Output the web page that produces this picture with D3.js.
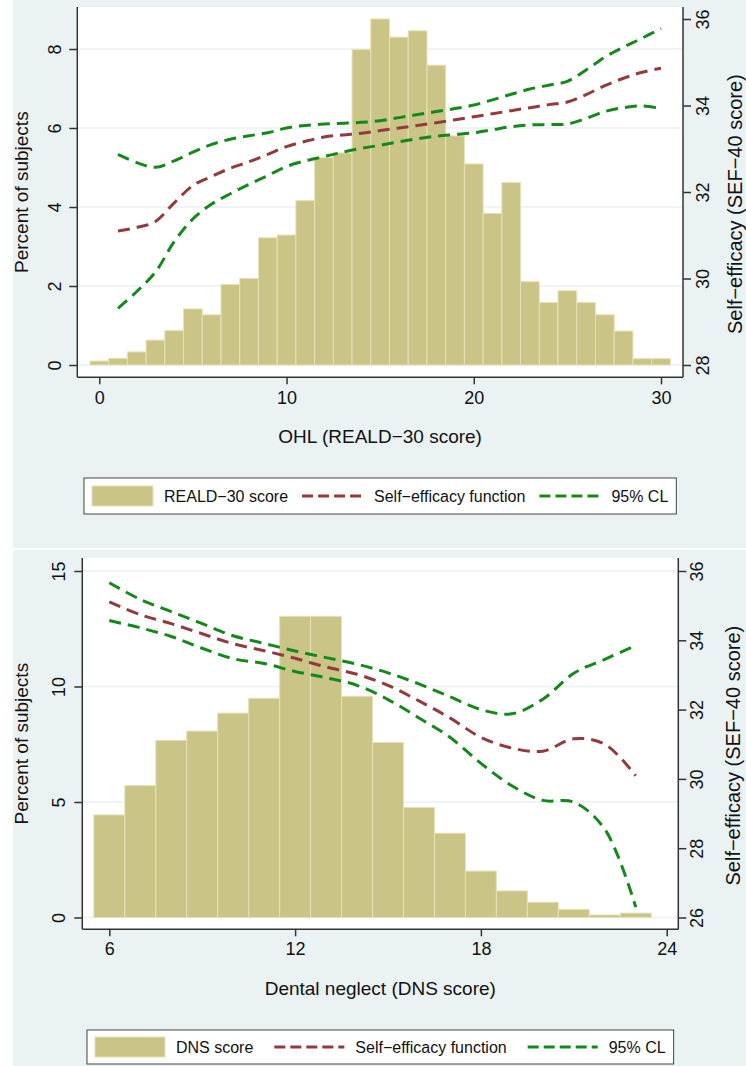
<!DOCTYPE html>
<html>
<head>
<meta charset="utf-8">
<script src="https://cdn.jsdelivr.net/npm/d3@7"></script>
<style>
  body { margin: 0; background: #fff; }
  svg { display: block; font-family: 'Liberation Sans', Arial, sans-serif; }
</style>
</head>
<body>
<svg id="chart" width="746" height="1066"></svg>
<script>
// Top panel: OHL (REALD-30) histogram with self-efficacy fit
const REALD_SCORES = [0, 1, 2, 3, 4, 5, 6, 7, 8, 9, 10, 11, 12, 13, 14, 15, 16, 17, 18, 19, 20, 21, 22, 23, 24, 25, 26, 27, 28, 29, 30];
const REALD_PERCENT = [0.10, 0.17, 0.33, 0.63, 0.87, 1.42, 1.27, 2.04, 2.19, 3.22, 3.29, 4.16, 5.25, 5.37, 7.99, 8.76, 8.30, 8.46, 7.59, 5.80, 5.09, 3.84, 4.62, 2.11, 1.58, 1.88, 1.58, 1.27, 0.86, 0.16, 0.16];
const REALD_FIT_SCORES = [1, 2, 3, 4, 5, 6, 7, 8, 9, 10, 11, 12, 13, 14, 15, 16, 17, 18, 19, 20, 21, 22, 23, 24, 25, 26, 27, 28, 29, 30];
const REALD_FIT = [31.10, 31.18, 31.32, 31.75, 32.15, 32.36, 32.55, 32.70, 32.87, 33.05, 33.17, 33.27, 33.32, 33.36, 33.42, 33.48, 33.54, 33.60, 33.67, 33.74, 33.81, 33.88, 33.95, 34.02, 34.08, 34.25, 34.46, 34.63, 34.77, 34.86];
const REALD_UPPER = [32.87, 32.68, 32.57, 32.72, 32.92, 33.10, 33.22, 33.30, 33.37, 33.48, 33.54, 33.57, 33.59, 33.61, 33.65, 33.72, 33.79, 33.86, 33.93, 34.01, 34.13, 34.26, 34.38, 34.47, 34.56, 34.82, 35.12, 35.35, 35.56, 35.78];
const REALD_LOWER = [29.31, 29.70, 30.15, 30.85, 31.38, 31.72, 31.96, 32.18, 32.38, 32.59, 32.72, 32.82, 32.92, 33.01, 33.08, 33.16, 33.23, 33.29, 33.33, 33.37, 33.44, 33.51, 33.55, 33.56, 33.57, 33.70, 33.86, 33.95, 33.99, 33.93];
const REALD_X_TICKS = [0, 10, 20, 30];
const REALD_PCT_TICKS = [0, 2, 4, 6, 8];
const REALD_SEF_TICKS = [28, 30, 32, 34, 36];
const REALD_LEGEND = ['REALD−30 score', 'Self−efficacy function', '95% CL'];

// Bottom panel: dental neglect (DNS) histogram with self-efficacy fit
const DNS_SCORES = [6, 7, 8, 9, 10, 11, 12, 13, 14, 15, 16, 17, 18, 19, 20, 21, 22, 23];
const DNS_PERCENT = [4.44, 5.71, 7.67, 8.07, 8.85, 9.49, 13.04, 13.04, 9.58, 7.58, 4.76, 3.65, 2.01, 1.15, 0.66, 0.35, 0.11, 0.19];
const DNS_FIT = [35.11, 34.74, 34.48, 34.19, 33.90, 33.70, 33.48, 33.23, 33.02, 32.70, 32.25, 31.76, 31.20, 30.89, 30.80, 31.16, 31.00, 30.09];
const DNS_UPPER = [35.66, 35.18, 34.83, 34.48, 34.13, 33.91, 33.69, 33.50, 33.31, 33.06, 32.74, 32.37, 32.00, 31.88, 32.30, 33.05, 33.45, 33.85];
const DNS_LOWER = [34.57, 34.36, 34.11, 33.77, 33.47, 33.33, 33.10, 32.92, 32.70, 32.29, 31.76, 31.20, 30.45, 29.80, 29.38, 29.33, 28.55, 26.30];
const DNS_X_TICKS = [6, 12, 18, 24];
const DNS_PCT_TICKS = [0, 5, 10, 15];
const DNS_SEF_TICKS = [26, 28, 30, 32, 34, 36];
const DNS_LEGEND = ['DNS score', 'Self−efficacy function', '95% CL'];

// Colours
const BG = '#eaf2f3';
const BAR = '#cbc487';
const BAR_EDGE = '#e6e1b8';
const RED = '#943a3e';
const GREEN = '#13891a';
const AXIS = '#333';
const INK = '#111';

// Panel layouts
const TOP = {
  bg: [13, 0, 733, 548],
  frame: { left: 77.3, right: 683, top: 7, bottom: 377.3 },
  xDomain: [0, 30], xRange: [99.3, 661],
  pctDomain: [0, 8], pctRange: [365, 49],
  sefDomain: [28, 36], sefRange: [365, 19],
  xLabelBase: 404, xTitleBase: 443,
  leftTitleX: 28, rightTitleX: 742, rightTitleShift: 12,
  leftTickOff: 16, rightTickOff: 26,
  legend: { y: 478, h: 36, keyW: 61, keyGap: 11, itemGap: 14, pad: 8 },
  xTitle: 'OHL (REALD−30 score)',
  scores: REALD_SCORES, percent: REALD_PERCENT,
  fitScores: REALD_FIT_SCORES, fit: REALD_FIT, upper: REALD_UPPER, lower: REALD_LOWER,
  xTicks: REALD_X_TICKS, pctTicks: REALD_PCT_TICKS, sefTicks: REALD_SEF_TICKS,
  legendLabels: REALD_LEGEND,
};

const BOTTOM = {
  bg: [13, 550, 733, 516],
  frame: { left: 82.3, right: 678.3, top: 558, bottom: 929.3 },
  xDomain: [6, 24], xRange: [109.3, 666.7],
  pctDomain: [0, 15], pctRange: [917.5, 571],
  sefDomain: [26, 36], sefRange: [917.5, 571],
  xLabelBase: 955, xTitleBase: 995,
  leftTitleX: 28, rightTitleX: 740, rightTitleShift: 12,
  leftTickOff: 17, rightTickOff: 25,
  legend: { y: 1030, h: 34, keyW: 70, keyGap: 11, itemGap: 21, pad: 8 },
  xTitle: 'Dental neglect (DNS score)',
  scores: DNS_SCORES, percent: DNS_PERCENT,
  fitScores: DNS_SCORES, fit: DNS_FIT, upper: DNS_UPPER, lower: DNS_LOWER,
  xTicks: DNS_X_TICKS, pctTicks: DNS_PCT_TICKS, sefTicks: DNS_SEF_TICKS,
  legendLabels: DNS_LEGEND,
};

// Rotate the tick labels of a vertical axis so they read bottom to top
function rotateTickLabels(axisG, offset) {
  axisG.selectAll('text')
    .attr('transform', 'rotate(-90)')
    .attr('x', 0)
    .attr('y', offset)
    .attr('dy', 0)
    .style('text-anchor', 'middle');
}

function drawLegend(svg, p, xMid) {
  const L = p.legend;
  const cy = L.y + L.h / 2;
  const g = svg.append('g');
  const box = g.append('rect')
    .attr('y', L.y)
    .attr('height', L.h)
    .attr('fill', '#fff')
    .attr('stroke', '#444')
    .attr('stroke-width', 1);
  const items = g.append('g');

  let cx = 0;
  p.legendLabels.forEach((label, i) => {
    if (i === 0) {
      items.append('rect')
        .attr('x', cx).attr('y', cy - 10)
        .attr('width', L.keyW).attr('height', 20)
        .attr('fill', BAR).attr('stroke', BAR_EDGE);
    } else {
      items.append('line')
        .attr('x1', cx).attr('x2', cx + L.keyW)
        .attr('y1', cy).attr('y2', cy)
        .attr('stroke', i === 1 ? RED : GREEN)
        .attr('stroke-width', 3)
        .attr('stroke-dasharray', '11,5');
    }
    const t = items.append('text')
      .attr('x', cx + L.keyW + L.keyGap)
      .attr('y', cy + 6)
      .attr('font-size', 16)
      .attr('fill', INK)
      .text(label);
    cx += L.keyW + L.keyGap + t.node().getComputedTextLength() + L.itemGap;
  });

  const contentW = cx - L.itemGap;
  const left = xMid - contentW / 2;
  items.attr('transform', `translate(${left},0)`);
  box.attr('x', left - L.pad).attr('width', contentW + 2 * L.pad);
}

function drawPanel(svg, p) {
  const f = p.frame;
  const g = svg.append('g');

  // Background and plot region
  g.append('rect')
    .attr('x', p.bg[0]).attr('y', p.bg[1])
    .attr('width', p.bg[2]).attr('height', p.bg[3])
    .attr('fill', BG);
  g.append('rect')
    .attr('x', f.left).attr('y', f.top)
    .attr('width', f.right - f.left).attr('height', f.bottom - f.top)
    .attr('fill', '#fff');

  // Scales
  const x = d3.scaleLinear(p.xDomain, p.xRange);
  const yPct = d3.scaleLinear(p.pctDomain, p.pctRange);
  const ySef = d3.scaleLinear(p.sefDomain, p.sefRange);

  // Grid lines (left axis)
  g.append('g')
    .selectAll('line')
    .data(p.pctTicks)
    .join('line')
    .attr('x1', f.left).attr('x2', f.right)
    .attr('y1', (d) => yPct(d)).attr('y2', (d) => yPct(d))
    .attr('stroke', BG)
    .attr('stroke-width', 1.5);

  // Histogram bars
  g.append('g')
    .selectAll('rect')
    .data(p.scores.map((s, i) => ({ s, v: p.percent[i] })))
    .join('rect')
    .attr('x', (d) => x(d.s - 0.5))
    .attr('width', (d) => x(d.s + 0.5) - x(d.s - 0.5))
    .attr('y', (d) => yPct(d.v))
    .attr('height', (d) => yPct(0) - yPct(d.v))
    .attr('fill', BAR)
    .attr('stroke', BAR_EDGE)
    .attr('stroke-width', 1);

  // Fitted lines
  const line = d3.line()
    .x((d) => x(d[0]))
    .y((d) => ySef(d[1]))
    .curve(d3.curveCatmullRom.alpha(0.5));
  const series = [
    { values: p.fit, color: RED },
    { values: p.upper, color: GREEN },
    { values: p.lower, color: GREEN },
  ];
  g.append('g')
    .selectAll('path')
    .data(series)
    .join('path')
    .attr('d', (d) => line(p.fitScores.map((s, i) => [s, d.values[i]])))
    .attr('fill', 'none')
    .attr('stroke', (d) => d.color)
    .attr('stroke-width', 3)
    .attr('stroke-dasharray', '12,7');

  // Frame lines
  const frame = g.append('g').attr('stroke', AXIS).attr('stroke-width', 1.5);
  frame.append('line').attr('x1', f.left).attr('x2', f.left).attr('y1', f.top).attr('y2', f.bottom);
  frame.append('line').attr('x1', f.right).attr('x2', f.right).attr('y1', f.top).attr('y2', f.bottom);
  frame.append('line').attr('x1', f.left).attr('x2', f.right).attr('y1', f.bottom).attr('y2', f.bottom);

  // Left axis
  const leftAxis = g.append('g')
    .attr('transform', `translate(${f.left},0)`)
    .call(d3.axisLeft(yPct).tickValues(p.pctTicks).tickSize(8).tickSizeOuter(0));
  rotateTickLabels(leftAxis, -p.leftTickOff);

  // Right axis
  const rightAxis = g.append('g')
    .attr('transform', `translate(${f.right},0)`)
    .call(d3.axisRight(ySef).tickValues(p.sefTicks).tickSize(8).tickSizeOuter(0));
  rotateTickLabels(rightAxis, p.rightTickOff);

  // Bottom axis
  const bottomAxis = g.append('g')
    .attr('transform', `translate(0,${f.bottom})`)
    .call(d3.axisBottom(x).tickValues(p.xTicks).tickSize(7).tickSizeOuter(0));
  bottomAxis.selectAll('text')
    .attr('y', p.xLabelBase - f.bottom)
    .attr('dy', 0);

  [leftAxis, rightAxis, bottomAxis].forEach((a) => {
    a.select('.domain').remove();
    a.selectAll('line').attr('stroke', AXIS).attr('stroke-width', 1.5);
    a.selectAll('text').attr('fill', INK).attr('font-size', 18).attr('font-family', null);
  });

  // Axis titles
  const yMid = (f.top + f.bottom) / 2;
  const xMid = (f.left + f.right) / 2;
  g.append('text')
    .attr('transform', `translate(${p.leftTitleX},${yMid}) rotate(-90)`)
    .attr('text-anchor', 'middle')
    .attr('font-size', 19)
    .attr('fill', INK)
    .text('Percent of subjects');
  g.append('text')
    .attr('transform', `translate(${p.rightTitleX},${yMid + p.rightTitleShift}) rotate(-90)`)
    .attr('text-anchor', 'middle')
    .attr('font-size', 20)
    .attr('fill', INK)
    .text('Self−efficacy (SEF−40 score)');
  g.append('text')
    .attr('x', xMid)
    .attr('y', p.xTitleBase)
    .attr('text-anchor', 'middle')
    .attr('font-size', 19)
    .attr('fill', INK)
    .text(p.xTitle);

  drawLegend(svg, p, xMid);
}

const svg = d3.select('#chart');
drawPanel(svg, TOP);
drawPanel(svg, BOTTOM);
</script>
</body>
</html>
